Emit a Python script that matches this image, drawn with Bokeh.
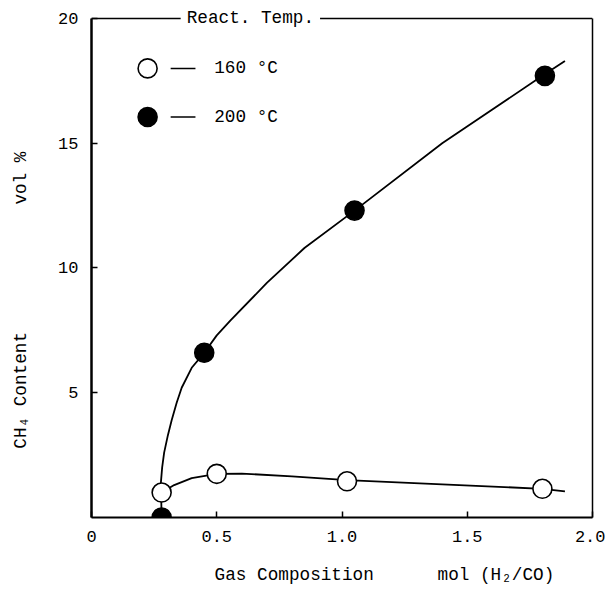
import math
from bokeh.plotting import figure
from bokeh.models import Label, LinearAxis, FixedTicker, Range1d, CustomJSTickFormatter
from bokeh.core.properties import value
from bokeh.embed import file_html
from bokeh.resources import INLINE

FONT = "Liberation Mono"
NB = "\u00a0"

# ---- axis ticks ----
x_ticks = [0, 0.5, 1.0, 1.5, 2.0]
x_tick_labels = ["0", "0.5", "1.0", "1.5", "2.0"]
y_ticks = [5, 10, 15, 20]
y_tick_labels = ["5", "10", "15", "20"]

# ---- measured points ----
t160_x = [0.28, 0.50, 1.02, 1.80]
t160_y = [1.0, 1.75, 1.45, 1.15]
t200_x = [0.28, 0.45, 1.05, 1.81]
t200_y = [0.0, 6.6, 12.3, 17.7]

# ---- hand-drawn curves ----
curve160_x = [0.28, 0.33, 0.40, 0.50, 0.60, 0.80, 1.02, 1.40, 1.80, 1.89]
curve160_y = [1.0, 1.30, 1.58, 1.75, 1.76, 1.65, 1.50, 1.33, 1.15, 1.05]
curve200_x = [0.28, 0.277, 0.282, 0.29, 0.305, 0.32, 0.34, 0.36, 0.40, 0.45, 0.50, 0.555, 0.70, 0.85, 1.05, 1.40, 1.80, 1.89]
curve200_y = [0.0, 1.4, 2.0, 2.6, 3.3, 3.9, 4.6, 5.2, 6.0, 6.6, 7.3, 7.9, 9.4, 10.8, 12.3, 15.0, 17.7, 18.3]

legend_labels = ["160 °C", "200 °C"]
legend_title = "React. Temp."
x_title = "Gas Composition"
x_unit = "mol (H\u2082/CO)"
y_title = "CH\u2084 Content"
y_unit = "vol %"

X_MIN, X_MAX = x_ticks[0], x_ticks[-1]
Y_MIN, Y_MAX = 0, y_ticks[-1]

p = figure(width=605, height=587, x_range=Range1d(X_MIN, X_MAX), y_range=Range1d(Y_MIN, 20.4),
           output_backend="svg", toolbar_location=None, title=None,
           min_border_left=91, min_border_right=13, min_border_top=8, min_border_bottom=69)
p.grid.visible = False
p.outline_line_color = None
p.background_fill_color = "white"
p.border_fill_color = "white"


def fmt(tick_vals, tick_labels):
    return CustomJSTickFormatter(args=dict(tvals=tick_vals, tlabels=tick_labels), code="""
        const i = tvals.findIndex(t => Math.abs(t - tick) < 1e-9);
        return i >= 0 ? tlabels[i] : '';
    """)


for ax, tv, tl, lw in ((p.xaxis[0], x_ticks, x_tick_labels, 2.0),
                       (p.yaxis[0], y_ticks, y_tick_labels, 2.5)):
    ax.ticker = FixedTicker(ticks=tv)
    ax.formatter = fmt(tv, tl)
    ax.axis_line_width = lw
    ax.axis_line_color = "black"
    ax.major_tick_in = 6
    ax.major_tick_out = 0
    ax.major_tick_line_width = 1.5
    ax.major_tick_line_color = "black"
    ax.minor_tick_line_color = None
    ax.major_label_text_font = FONT
    ax.major_label_text_font_size = "17px"
    ax.major_label_text_color = "black"
    ax.axis_label_text_font = FONT
    ax.axis_label_text_font_size = "17.7px"
    ax.axis_label_text_font_style = "normal"
    ax.axis_label_text_color = "black"

p.yaxis[0].bounds = (Y_MIN, Y_MAX)
p.xaxis[0].major_label_standoff = 13
p.yaxis[0].major_label_standoff = 13
p.xaxis[0].axis_label = NB * 8 + x_title + NB * 6 + x_unit
p.xaxis[0].axis_label_standoff = 20
p.yaxis[0].axis_label = y_title + NB * 12 + y_unit + NB * 7
p.yaxis[0].axis_label_standoff = 24

right = LinearAxis(ticker=FixedTicker(ticks=[]), axis_line_width=1.5, axis_line_color="black",
                   major_tick_line_color=None, minor_tick_line_color=None,
                   major_label_text_font_size="0px", bounds=(Y_MIN, Y_MAX))
p.add_layout(right, "right")

# top border of the frame (at y = 20)
p.segment(x0=[X_MIN], y0=[Y_MAX], x1=[X_MAX], y1=[Y_MAX], line_color="black", line_width=1.5)

# curves
p.line(curve160_x, curve160_y, line_color="black", line_width=1.8)
p.line(curve200_x, curve200_y, line_color="black", line_width=1.8)

# points
p.scatter(t160_x, t160_y, marker="circle", size=19, fill_color="white",
          line_color="black", line_width=1.6)
p.scatter(t200_x, t200_y, marker="circle", size=19, fill_color="black",
          line_color="black", line_width=1.6)

# legend (drawn manually)
leg_cx = 0.224
leg_y = [18.0, 16.05]
p.scatter([leg_cx, leg_cx], leg_y, marker="circle", size=19,
          fill_color=["white", "black"], line_color="black", line_width=1.6)
p.segment(x0=[0.316, 0.316], y0=leg_y, x1=[0.415, 0.415], y1=leg_y,
          line_color="black", line_width=1.5)
p.text([0.49, 0.49], leg_y, text=legend_labels, text_font=value(FONT),
       text_font_size=value("17.7px"), text_baseline="middle", text_color="black")

p.add_layout(Label(x=0.356, y=Y_MAX, text=legend_title, text_baseline="middle",
                   background_fill_color="white", padding=6,
                   text_font=FONT, text_font_size="17.7px", text_color="black"))

open("out.html", "w").write(file_html(p, INLINE))
